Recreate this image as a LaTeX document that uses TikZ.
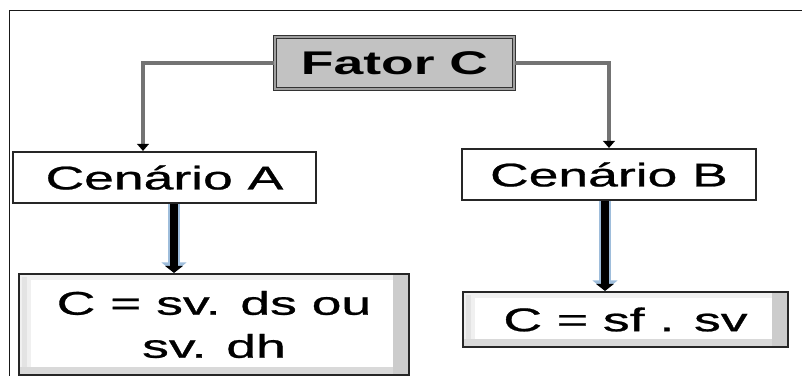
\documentclass[tikz,border=0pt]{standalone}
\usepackage{fontspec}
\setmainfont{Liberation Sans}[UprightFeatures={FakeBold=0.7}]
\usetikzlibrary{arrows.meta}
\definecolor{glowblue}{rgb}{0.62,0.74,0.86}
\newcommand\largo[1]{\scalebox{1.63}[1]{#1}}

\begin{document}
\begin{tikzpicture}[x=0.03cm, y=-0.03cm,
  txt/.style={font=\fontsize{28}{36.7}\selectfont, align=center, inner sep=0pt},
  cenbox/.style={txt, draw=gray!30!black, line width=1.8pt, fill=white},
  bevel/.style={txt, draw=gray!30!black, line width=1.8pt,
     path picture={
       \fill[gray!12] (path picture bounding box.south west) rectangle (path picture bounding box.north east);
       \fill[gray!40] ([shift={(-16,0)}]path picture bounding box.north east) rectangle (path picture bounding box.south east);
       \fill[gray!30] ([shift={(0,-8)}]path picture bounding box.south west) rectangle ([shift={(-16,0)}]path picture bounding box.south east);
       \fill[gray!22] ([shift={(3,3)}]path picture bounding box.north west) rectangle ([shift={(8,-8)}]path picture bounding box.south west);
       \fill[white] ([shift={(12,6)}]path picture bounding box.north west) rectangle ([shift={(-16,-8)}]path picture bounding box.south east);
     }},
  conn/.style={draw=gray!90!black, line width=3pt, -{Triangle[length=6pt,width=10pt,black]}},
  glow/.style={draw=glowblue, line width=11pt, -{Triangle[length=9pt,width=21pt]}},
  bigarr/.style={draw=black, line width=6pt, -{Triangle[length=6pt,width=15pt]}}
]
\useasboundingbox (0,0) rectangle (802,376);

% moldura
\draw[gray!20!black, line width=0.8pt] (802,10) -- (9,10) -- (9,376);

% caixas
\node[txt, draw=gray!40!black, double=gray!75, double distance=1.2pt, line width=1.1pt,
      fill=gray!48, minimum width=239*0.03cm, minimum height=52*0.03cm] (fatorc) at (394.5,63) {\largo{\bfseries Fator C}};
\node[cenbox, minimum width=303*0.03cm, minimum height=51*0.03cm] (cenA) at (164.5,177.5) {\largo{Cenário A}};
\node[cenbox, minimum width=294*0.03cm, minimum height=51*0.03cm] (cenB) at (609,174.5) {\largo{Cenário B}};
\node[bevel, minimum width=390*0.03cm, minimum height=101*0.03cm] (resA) at (214,324.5) {\largo{C = sv. ds ou}\\\largo{sv. dh}};
\node[bevel, minimum width=325*0.03cm, minimum height=55*0.03cm] (resB) at (625.5,319.5) {\largo{C = sf . sv}};

% ligacoes
\coordinate (ca) at (143,0);
\coordinate (cb) at (609,0);
\draw[conn] (fatorc.west) -| (ca |- cenA.north);
\draw[conn] (fatorc.east) -| (cb |- cenB.north);

\coordinate (xa) at (174,0);
\coordinate (xb) at (605,0);
\draw[glow] (xa |- cenA.south) -- (xa |- resA.north);
\draw[bigarr] (xa |- cenA.south) -- (xa |- resA.north);
\draw[glow] (xb |- cenB.south) -- (xb |- resB.north);
\draw[bigarr] (xb |- cenB.south) -- (xb |- resB.north);
\end{tikzpicture}
\end{document}
